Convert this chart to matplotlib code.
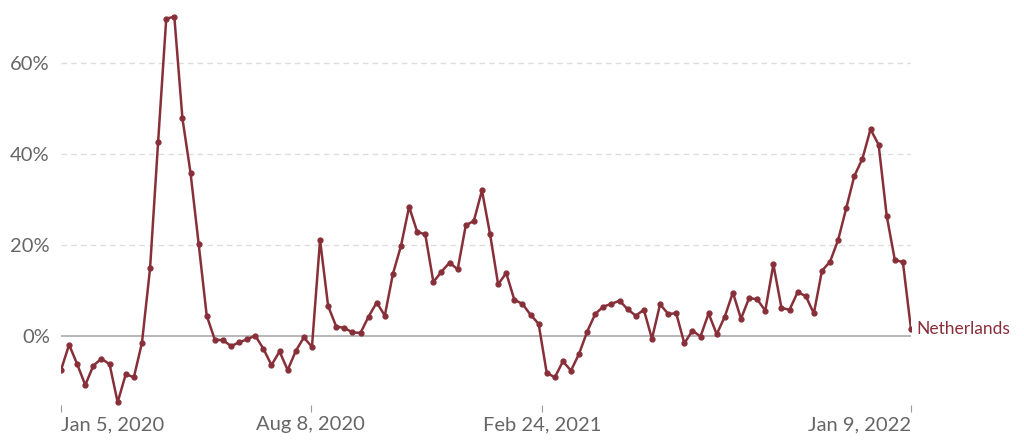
import numpy as np
import pandas as pd
import matplotlib.pyplot as plt
import matplotlib.dates as mdates
from matplotlib.ticker import FuncFormatter

plt.rcParams['font.family'] = ['Lato', 'DejaVu Sans']

# weekly values, Jan 5 2020 -> Jan 9 2022
dates = pd.date_range('2020-01-05', '2022-01-09', freq='7D')
values = [
    -7.6, -2.0, -6.3, -10.9, -6.6, -5.1, -6.3, -14.7, -8.5, -9.2,
    -1.6, 14.8, 42.8, 69.9, 70.3, 47.9, 35.9, 20.3, 4.4, -0.9,
    -1.0, -2.3, -1.5, -0.8, 0.0, -2.9, -6.5, -3.5, -7.6, -3.4,
    -0.4, -2.5, 21.1, 6.5, 2.0, 1.7, 0.7, 0.6, 4.2, 7.3,
    4.4, 13.6, 19.8, 28.4, 22.9, 22.3, 11.8, 14.1, 16.1, 14.6,
    24.3, 25.3, 32.0, 22.4, 11.3, 13.8, 7.9, 7.0, 4.6, 2.6,
    -8.2, -9.2, -5.7, -7.7, -4.0, 0.9, 4.8, 6.4, 7.0, 7.7,
    5.8, 4.4, 5.7, -0.7, 6.9, 4.8, 4.9, -1.7, 1.1, -0.2,
    4.9, 0.3, 4.2, 9.5, 3.7, 8.3, 8.0, 5.5, 15.7, 6.1,
    5.7, 9.6, 8.7, 4.9, 14.3, 16.3, 21.1, 28.1, 35.2, 39.0,
    45.5, 42.1, 26.4, 16.7, 16.2, 1.4,
]
country = 'Netherlands'
tick_dates = ['2020-01-05', '2020-08-08', '2021-02-24', '2022-01-09']
tick_labels = ['Jan 5, 2020', 'Aug 8, 2020', 'Feb 24, 2021', 'Jan 9, 2022']
y_ticks = [0, 20, 40, 60]

color = '#883039'
grey = '#666666'

fig = plt.figure(figsize=(10.24, 4.48), dpi=100)
ax = fig.add_axes([61 / 1024, 43 / 448, 850 / 1024, 405 / 448])

for y in y_ticks[1:]:
    ax.axhline(y, color='#dddddd', lw=1, ls=(0, (4, 3)), zorder=0)
ax.axhline(0, color='#aaaaaa', lw=1.2, zorder=1)

ax.plot(dates, values, color=color, lw=1.8, marker='o', ms=3.5, zorder=3)
ax.text(dates[-1] + pd.Timedelta(days=5), values[-1], country, color=color,
        fontsize=12.5, va='center', ha='left')

ax.set_xlim(dates[0], dates[-1])
ax.set_ylim(-15.3, 74)

ax.set_xticks(pd.to_datetime(tick_dates))
ax.set_xticklabels(tick_labels)
labels = ax.get_xticklabels()
labels[0].set_ha('left')
labels[-1].set_ha('right')
ax.set_yticks(y_ticks)
ax.yaxis.set_major_formatter(FuncFormatter(lambda v, p: f'{int(v)}%'))

for s in ax.spines.values():
    s.set_visible(False)
ax.tick_params(axis='x', length=5, color='#999999', labelcolor=grey,
               labelsize=14.5, pad=3)
ax.tick_params(axis='y', length=0, labelcolor=grey, labelsize=14.5, pad=8)

fig.savefig('out.png', dpi=100)
